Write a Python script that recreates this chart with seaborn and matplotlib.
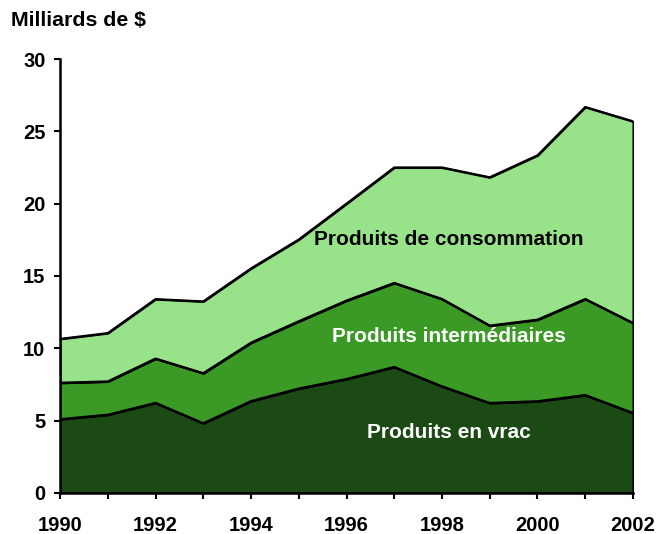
import numpy as np
import pandas as pd
import matplotlib
matplotlib.use("Agg")
import matplotlib.pyplot as plt
import seaborn as sns

# données (milliards de $)
annees = [1990, 1991, 1992, 1993, 1994, 1995, 1996, 1997, 1998, 1999, 2000, 2001, 2002]
vrac = [5.10, 5.41, 6.23, 4.82, 6.35, 7.22, 7.88, 8.71, 7.37, 6.22, 6.34, 6.77, 5.53]
intermediaires = [2.52, 2.30, 3.06, 3.46, 4.04, 4.65, 5.42, 5.81, 6.04, 5.35, 5.64, 6.64, 6.22]
consommation = [3.03, 3.34, 4.11, 4.96, 5.13, 5.65, 6.70, 7.98, 9.09, 10.25, 11.36, 13.27, 13.94]

noms = ["Produits en vrac", "Produits intermédiaires", "Produits de consommation"]
couleurs = ["#1c4a14", "#3a9a25", "#98e38a"]

sns.set_theme(style="ticks")
plt.rcParams["font.family"] = ["Liberation Sans", "DejaVu Sans"]
plt.rcParams["font.weight"] = "bold"

df = pd.DataFrame({
    "annee": annees,
    noms[0]: vrac,
    noms[1]: intermediaires,
    noms[2]: consommation,
})

fig = plt.figure(figsize=(6.58, 5.34), dpi=100)
ax = fig.add_axes([0.0912, 0.0768, 0.8708, 0.8127])

ax.stackplot(df["annee"], df[noms[0]], df[noms[1]], df[noms[2]],
             colors=couleurs, edgecolor="black", linewidth=1.5)

# contours des couches cumulées
cumul = df[noms].cumsum(axis=1)
for nom in noms:
    sns.lineplot(x=df["annee"], y=cumul[nom], ax=ax, color="black", linewidth=1.6)

ax.set_xlim(1990, 2002)
ax.set_ylim(0, 30)
ax.set_xticks(annees)
ax.set_xticklabels([str(a) if a % 2 == 0 else "" for a in annees])
ax.set_yticks([0, 5, 10, 15, 20, 25, 30])
ax.set_xlabel("")
ax.set_ylabel("")
ax.tick_params(axis="both", labelsize=14.5, length=4.5, width=1.5, color="black",
               labelcolor="black")
ax.tick_params(axis="x", pad=12)
ax.tick_params(axis="y", pad=6)
for lab in ax.get_xticklabels() + ax.get_yticklabels():
    lab.set_fontweight("bold")
for s in ["top", "right"]:
    ax.spines[s].set_visible(False)
for s in ["left", "bottom"]:
    ax.spines[s].set_linewidth(1.8)
    ax.spines[s].set_color("black")

ax.text(1998.15, 17.5, "Produits de consommation", ha="center", va="center",
        fontsize=15, fontweight="bold", color="black")
ax.text(1998.15, 10.85, "Produits intermédiaires", ha="center", va="center",
        fontsize=15, fontweight="bold", color="white")
ax.text(1998.15, 4.2, "Produits en vrac", ha="center", va="center",
        fontsize=15, fontweight="bold", color="white")

fig.text(11 / 658, 1 - 21 / 534, "Milliards de $", ha="left", va="center",
         fontsize=15.3, fontweight="bold", color="black")

fig.savefig("out.png", dpi=100)
